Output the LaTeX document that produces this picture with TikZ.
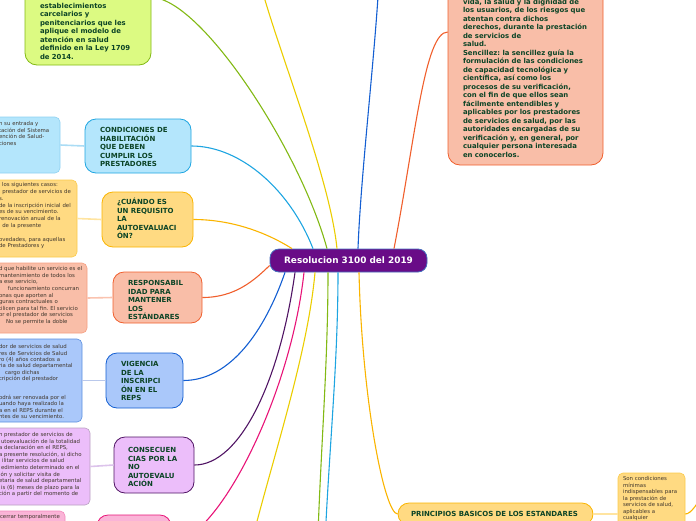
\documentclass[tikz,border=0pt]{standalone}
\usepackage{fontspec}
\setmainfont{DejaVu Sans}
\usepackage{tikz}
\hyphenpenalty=10000
\exhyphenpenalty=10000

\definecolor{resfill}{RGB}{105,12,135}
\definecolor{resline}{RGB}{70,110,190}
\definecolor{topictext}{RGB}{12,68,38}
\definecolor{subtext}{RGB}{65,55,45}
\definecolor{verde}{RGB}{130,185,20}
\definecolor{verdefill}{RGB}{220,250,130}
\definecolor{amarillo}{RGB}{235,205,0}
\definecolor{azul}{RGB}{20,95,210}
\definecolor{azulfill}{RGB}{170,200,250}
\definecolor{azulsub}{RGB}{185,200,235}
\definecolor{rojo}{RGB}{240,95,45}
\definecolor{salmonfill}{RGB}{249,190,168}
\definecolor{salmonsub}{RGB}{250,195,175}
\definecolor{celeste}{RGB}{30,165,225}
\definecolor{celestefill}{RGB}{180,230,252}
\definecolor{celestesub}{RGB}{170,220,245}
\definecolor{naranja}{RGB}{250,180,0}
\definecolor{naranjafill}{RGB}{255,218,130}
\definecolor{naranjasub}{RGB}{255,228,160}
\definecolor{morado}{RGB}{80,20,100}
\definecolor{lilafill}{RGB}{236,190,250}
\definecolor{lilasub}{RGB}{220,195,235}
\definecolor{magenta}{RGB}{232,20,120}
\definecolor{rosafill}{RGB}{250,180,215}

\tikzset{
	topic/.style={draw, rounded corners=11pt, line width=0.8pt, text=topictext,
		align=left, font=\bfseries\fontsize{7}{8.5}\selectfont,
		inner xsep=15pt, inner ysep=0pt, anchor=text},
	bigtopic/.style={topic, rounded corners=12pt, font=\bfseries\fontsize{6.9}{8.5}\selectfont},
	subtopic/.style={draw, rounded corners=5pt, line width=0.6pt, text=subtext,
		align=left, font=\fontsize{5.4}{6.6}\selectfont,
		inner xsep=5pt, inner ysep=0pt, anchor=text},
	link/.style={line width=1.1pt},
	sublink/.style={line width=1.6pt}
}

\begin{document}
\begin{tikzpicture}[x=1pt,y=-1pt]
	\useasboundingbox (0,0) rectangle (696,520);

	\node [draw=resline, fill=resfill, rounded corners=9pt, line width=0.8pt,
		minimum width=157pt, minimum height=23pt, inner sep=0pt, text=white,
		font=\bfseries\fontsize{8.9}{10}\selectfont] (res) at (348.5,260.5) {Resolucion 3100 del 2019};

	\node [bigtopic, fill=verdefill, draw=verde, text width=96pt, text height=78.3pt, text depth=56.7pt]
		(carcel) at (40,8.3)
		{establecimientos\\carcelarios~y\\penitenciarios~que~les\\aplique~el~modelo~de\\atención~en~salud\\definido~en~la~Ley~1709\\de~2014.};
	\node [bigtopic, fill=salmonfill, draw=rojo, text width=125pt, text height=105.3pt, text depth=160.7pt]
		(senc) at (463,4.3)
		{vida,~la~salud~y~la~dignidad~de\\los~usuarios,~de~los~riesgos~que\\atentan~contra~dichos\\derechos,~durante~la~prestación\\de~servicios~de\\salud.\\Sencillez:~la~sencillez~guía~la\\formulación~de~las~condiciones\\de~capacidad~tecnológica~y\\científica,~así~como~los\\procesos~de~su~verificación,\\con~el~fin~de~que~ellos~sean\\fácilmente~entendibles~y\\aplicables~por~los~prestadores\\de~servicios~de~salud,~por~las\\autoridades~encargadas~de~su\\verificación~y,~en~general,~por\\cualquier~persona~interesada\\en~conocerlos.};

	\node [topic, fill=celestefill, draw=celeste, text width=76pt, text height=13.5pt, text depth=40.5pt]
		(hab) at (100,132.5) {CONDICIONES DE\\HABILITACIÓN\\QUE DEBEN\\CUMPLIR LOS\\PRESTADORES};
	\node [topic, fill=naranjafill, draw=naranja, text width=61pt, text height=12.5pt, text depth=42.5pt]
		(cuando) at (117,204.5) {¿CUÁNDO~ES\\UN~REQUISITO\\LA\\AUTOEVALUACI\\ÓN?};
	\node [topic, fill=salmonfill, draw=rojo, text width=59pt, text height=13.5pt, text depth=37.5pt]
		(resp) at (128,285.5) {RESPONSABIL\\IDAD~PARA\\MANTENER\\LOS\\ESTÁNDARES};
	\node [topic, fill=azulfill, draw=azul, text width=47pt, text height=13.5pt, text depth=41.5pt]
		(vig) at (121,366.5) {VIGENCIA\\DE~LA\\INSCRIPCI\\ÓN~EN~EL\\REPS};
	\node [topic, fill=lilafill, draw=morado, inner xsep=14pt, text width=52pt, text height=15.5pt, text depth=40.5pt]
		(cons) at (128,452.5) {CONSECUEN\\CIAS~POR~LA\\NO\\AUTOEVALU\\ACIÓN};
	\node [topic, fill=rosafill, draw=magenta, text width=44pt, text height=10pt, text depth=45pt]
		(cierre) at (112,525) {};
	\node [topic, fill=naranjafill, draw=naranja, inner xsep=13pt, text width=169pt, text height=13.5pt, text depth=8.5pt]
		(princ) at (411,516.5) {PRINCIPIOS~BASICOS~DE~LOS~ESTANDARES};

	\node [subtopic, fill=celestefill, draw=celestesub!80!celeste, text width=56pt, text height=8.7pt, text depth=47.3pt]
		(habtxt) at (-1,125.7)
		{n~su~entrada~y\\tación~del~Sistema\\ención~de~Salud-\\ciones};
	\node [subtopic, fill=naranjafill, draw=naranja!70, text width=73pt, text height=6.7pt, text depth=70.3pt,
		font=\fontsize{5.4}{6.8}\selectfont]
		(cuandotxt) at (-1,186.7)
		{\hspace*{3pt}los~siguientes~casos:\\l~prestador~de~servicios~de\\s.\\de~la~inscripción~inicial~del\\es~de~su~vencimiento.\\renovación~anual~de~la\\l~de~la~presente\\[6.8pt]ovedades,~para~aquellas\\de~Prestadores~y};
	\node [subtopic, fill=salmonfill, draw=rojo!60, text width=83pt, text height=7.7pt, text depth=62.3pt]
		(resptxt) at (-1,270.7)
		{d~que~habilite~un~servicio~es~el\\mantenimiento~de~todos~los\\a~ese~servicio,\\\hspace*{9pt}funcionamiento~concurran\\onas~que~aporten~al\\guras~contractuales~o\\tilicen~para~tal~fin.~El~servicio\\or~el~prestador~de~servicios\\\hspace*{7pt}No~se~permite~la~doble};
	\node [subtopic, fill=azulfill, draw=azul!70, text width=78pt, text height=9.7pt, text depth=73.3pt,
		font=\fontsize{5.4}{6.35}\selectfont]
		(vigtxt) at (-1,348.7)
		{dor~de~servicios~de~salud\\res~de~Servicios~de~Salud\\ro~(4)~años~contados~a\\ria~de~salud~departamental\\\hspace*{6pt}cargo~dichas\\cripción~del~prestador\\[12.7pt]odrá~ser~renovada~por~el\\uando~haya~realizado~la\\a~en~el~REPS~durante~el\\ntes~de~su~vencimiento.};
	\node [subtopic, fill=lilafill, draw=morado!40, text width=86pt, text height=8.7pt, text depth=68.3pt,
		font=\fontsize{5.4}{6.55}\selectfont]
		(constxt) at (-1,436.7)
		{n~prestador~de~servicios~de\\\hspace*{2pt}utoevaluación~de~la~totalidad\\a~declaración~en~el~REPS,\\a~presente~resolución,~si~dicho\\\hspace*{3pt}ilitar~servicios~de~salud\\\hspace*{2pt}edimiento~determinado~en~el\\ión~y~solicitar~visita~de\\etaria~de~salud~departamental\\\hspace*{2pt}is~(6)~meses~de~plazo~para~la\\ción~a~partir~del~momento~de};
	\node [subtopic, fill=rosafill, draw=magenta!50, text width=60pt, text height=7.7pt, text depth=40pt]
		(cierretxt) at (0,518.7) {cerrar~temporalmente};
	\node [subtopic, fill=naranjafill, draw=naranja!70, text width=57pt, text height=7.7pt, text depth=74.3pt,
		font=\fontsize{5.4}{6.5}\selectfont]
		(princtxt) at (623,480.7)
		{Son~condiciones\\mínimas\\indispensables~para\\la~prestación~de\\servicios~de~salud,\\aplicables~a\\cualquier};

	\coordinate (arribaA) at (255,-40);
	\coordinate (arribaB) at (380,-40);
	\coordinate (abajoA) at (245,570);
	\coordinate (abajoB) at (317,570);
	\coordinate (abajoC) at (324,570);
	\coordinate (siguiente) at (730,470);

	\draw [link, verde] ([xshift=-21.5pt]res.north) .. controls +(-27,-99) and +(49,0) .. (carcel.east);
	\draw [link, amarillo] ([xshift=-11.5pt]res.north) .. controls +(-8,-80) and +(10,60) .. (arribaA);
	\draw [link, azul] ([xshift=9.5pt]res.north) .. controls +(3,-80) and +(-3,80) .. (arribaB);
	\draw [link, rojo] ([xshift=45.5pt]res.north) .. controls +(21,-109) and +(-23,0) .. (senc.west);
	\draw [link, celeste] ([xshift=-35.5pt]res.north) .. controls +(-23,-59) and +(49,0) .. (hab.east);
	\draw [link, naranja] ([xshift=-56.5pt]res.north) .. controls +(-27,-17) and +(37,0) .. (cuando.east);
	\draw [link, rojo] ([yshift=-5pt]res.west) .. controls +(-15,14.5) and +(33,0) .. (resp.east);
	\draw [link, azul] ([xshift=-63.5pt]res.south) .. controls +(-20,58) and +(47,0) .. (vig.east);
	\draw [link, morado] ([xshift=-53.5pt]res.south) .. controls +(-15,108) and +(46,0) .. (cons.east);
	\draw [link, magenta] ([xshift=-44.5pt]res.south) .. controls +(-14,128) and +(44,0) .. (cierre.east);
	\draw [link, amarillo] ([xshift=-33.5pt]res.south) .. controls +(-8,90) and +(20,-90) .. (abajoA);
	\draw [link, verde] ([xshift=-20.5pt]res.south) .. controls +(0,100) and +(2,-100) .. (abajoB);
	\draw [link, celeste] ([xshift=-10.5pt]res.south) .. controls +(0,100) and +(3,-100) .. (abajoC);
	\draw [link, naranja] ([xshift=10.5pt]res.south) .. controls +(3,128) and +(-13,0) .. (princ.west);
	\draw [link, naranja] (princtxt.east) .. controls +(12,0) and +(-20,0) .. (siguiente);

	\draw [sublink, celestesub] (hab.west) -- (habtxt.east);
	\draw [sublink, naranjasub] (cuando.west) -- (cuandotxt.east);
	\draw [sublink, salmonsub] (resp.west) -- (resptxt.east);
	\draw [sublink, azulsub] (vig.west) -- (vigtxt.east);
	\draw [sublink, lilasub] (cons.west) -- (constxt.east);
	\draw [sublink, rosafill] (cierre.west) -- (cierretxt.east);
	\draw [sublink, naranjasub] (princ.east) -- (princtxt.west);
\end{tikzpicture}
\end{document}
